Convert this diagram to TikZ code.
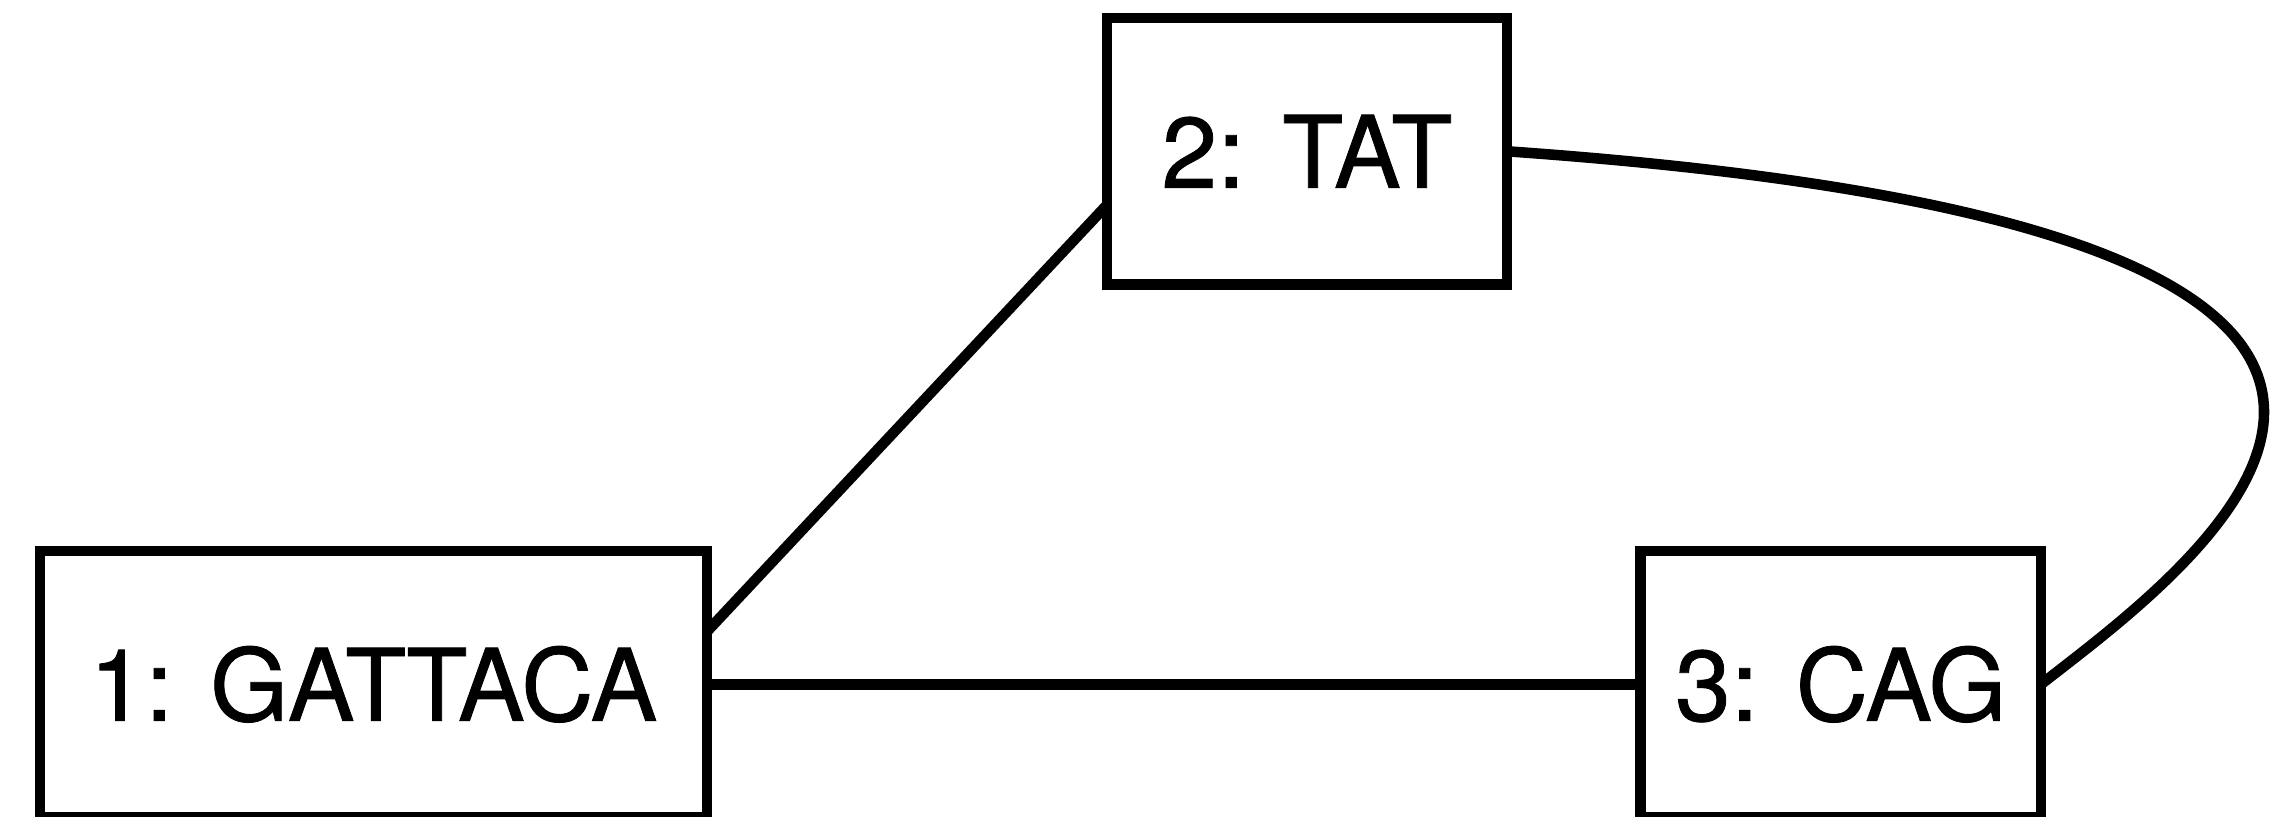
\documentclass[tikz,border=0pt]{standalone}
\usepackage{fontspec}
\setmainfont{TeX Gyre Heros}[FakeBold=0.8]
\usetikzlibrary{positioning}

\begin{document}
\begin{tikzpicture}[
  seq/.style={draw, line width=3pt, inner sep=0pt, outer sep=0pt, minimum height=2.667cm, font=\fontsize{28.5}{34}\selectfont},
  link/.style={line width=3pt}
]
\useasboundingbox (0,0) rectangle (22.89,8.16);
\node[seq, minimum width=6.67cm] (n1) at (3.735,1.317) {1: GATTACA};
\node[seq, minimum width=4.005cm, right=9.335cm of n1] (n3) {3: CAG};
\node[seq, minimum width=4cm, above right=2.663cm and 4cm of n1] (n2) {2: TAT};
\draw[link] (n1.9.6)--(n2.195.6);
\draw[link] (n1.east)--(n3.west);
\draw[link] (n2.east) .. controls +(11.58,-0.81) and +(1.48,1.16) .. (n3.east);
\end{tikzpicture}
\end{document}
